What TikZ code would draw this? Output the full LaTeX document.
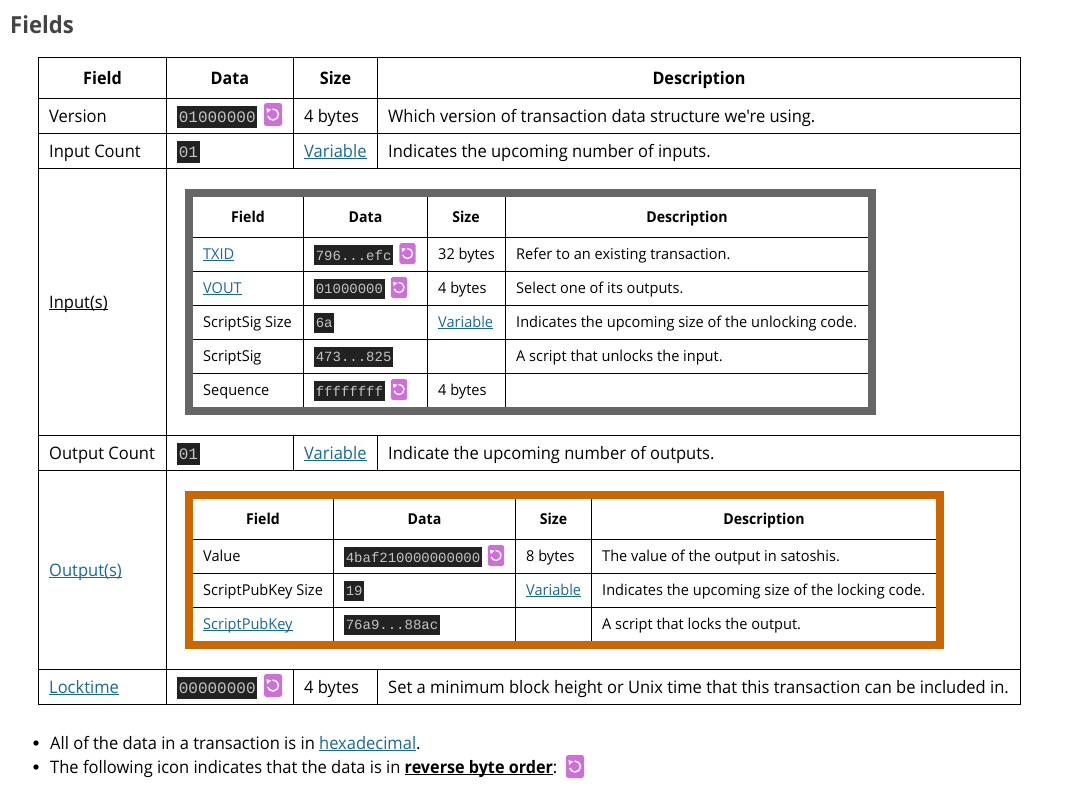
\documentclass[tikz,border=0pt]{standalone}
\usepackage{fontspec}
\newfontfamily\bigfam{Open Sans}[FakeStretch=0.96,BoldFeatures={FakeStretch=0.94}]
\newfontfamily\smallfam{Open Sans}[FakeStretch=0.97,BoldFeatures={FakeStretch=0.94}]
\setmonofont{Liberation Mono}
\definecolor{linkblue}{RGB}{20,105,160}
\definecolor{codebg}{RGB}{34,34,34}
\definecolor{codefg}{RGB}{195,195,195}
\definecolor{iconpurple}{RGB}{205,110,217}
\definecolor{greyframe}{RGB}{102,102,102}
\definecolor{orangeframe}{RGB}{204,102,0}
\definecolor{headgrey}{RGB}{68,68,68}
\newcommand{\linktext}[1]{\textcolor{linkblue}{\sbox0{#1}\rlap{\rule[-2.4pt]{\wd0}{1pt}}\usebox0}}
\tikzset{
  bigtext/.style={anchor=base west,inner sep=0,font=\bigfam\fontsize{17.2}{20}\selectfont},
  bighead/.style={anchor=base,inner sep=0,font=\bigfam\fontsize{17.2}{20}\selectfont\bfseries},
  smalltext/.style={anchor=base west,inner sep=0,font=\smallfam\fontsize{15}{18}\selectfont},
  smallhead/.style={anchor=base,inner sep=0,font=\smallfam\fontsize{15}{18}\selectfont\bfseries},
  bigcode/.style={anchor=west,fill=codebg,text=codefg,inner xsep=1.6,inner ysep=0,minimum height=22,font=\ttfamily\fontsize{16}{18}\selectfont},
  smallcode/.style={anchor=west,fill=codebg,text=codefg,inner xsep=1.6,inner ysep=0,minimum height=20,font=\ttfamily\fontsize{14}{16}\selectfont},
  revicon/.pic={
    \fill[iconpurple,rounded corners=2.5] (-9,-11.5) rectangle (9,11.5);
    \draw[white,line width=1.5] (-95:5.5) arc[start angle=-95,end angle=165,radius=5.5];
    \fill[white] (-6.6,-6.2) -- (-1.6,-5.2) -- (-5.8,-1.4) -- cycle;
  },
  smallrevicon/.pic={
    \fill[iconpurple,rounded corners=2.5] (-8.2,-10.5) rectangle (8.2,10.5);
    \draw[white,line width=1.4] (-95:5) arc[start angle=-95,end angle=165,radius=5];
    \fill[white] (-6,-5.6) -- (-1.5,-4.8) -- (-5.3,-1.3) -- cycle;
  }
}
\begin{document}
\begin{tikzpicture}[x=1pt,y=-1pt]
\useasboundingbox (0,0) rectangle (1092,790);
\node[anchor=base west,inner sep=0,text=headgrey,font=\bigfam\fontsize{23.5}{26}\selectfont\bfseries] (title) at (10,33) {Fields};
% main table
\draw[line width=1.1] (38.5,57.5) rectangle (1020.5,704.5);
\foreach \y in {98.5,133.5,168.5,435.5,470.5,669.5}
  \draw[line width=1.1] (38.5,\y) -- (1020.5,\y);
\draw[line width=1.1] (166.5,57.5) -- (166.5,704.5);
\foreach \x/\ya/\yb in {293.5/57.5/168.5,377.5/57.5/168.5,293.5/435.5/470.5,377.5/435.5/470.5,293.5/669.5/704.5,377.5/669.5/704.5}
  \draw[line width=1.1] (\x,\ya) -- (\x,\yb);
\node[bighead] (hfield) at (102.5,84) {Field};
\node[bighead] (hdata) at (230,84) {Data};
\node[bighead] (hsize) at (335.5,84) {Size};
\node[bighead] (hdesc) at (699,84) {Description};
\node[bigtext] (version) at (49,122) {Version};
\node[bigcode] (versiondata) at (177,117) {01000000};
\pic at (273,114.5) {revicon};
\node[bigtext] (versionsize) at (304,122) {4 bytes};
\node[bigtext] (versiondesc) at (388,122) {Which version of transaction data structure we're using.};
\node[bigtext] (incount) at (49,157) {Input Count};
\node[bigcode] (incountdata) at (177,152) {01};
\node[bigtext] (incountsize) at (304,157) {\linktext{Variable}};
\node[bigtext] (incountdesc) at (388,157) {Indicates the upcoming number of inputs.};
\node[bigtext] (inputs) at (49,308) {\sbox0{Input(s)}\rlap{\rule[-2.4pt]{\wd0}{1pt}}\usebox0};
\node[bigtext] (outcount) at (49,459) {Output Count};
\node[bigcode] (outcountdata) at (177,454) {01};
\node[bigtext] (outcountsize) at (304,459) {\linktext{Variable}};
\node[bigtext] (outcountdesc) at (388,459) {Indicate the upcoming number of outputs.};
\node[bigtext] (outputs) at (49,576) {\linktext{Output(s)}};
\node[bigtext] (locktime) at (49,693) {\linktext{Locktime}};
\node[bigcode] (locktimedata) at (177,688) {00000000};
\pic at (273,685.5) {revicon};
\node[bigtext] (locktimesize) at (304,693) {4 bytes};
\node[bigtext] (locktimedesc) at (388,693) {Set a minimum block height or Unix time that this transaction can be included in.};
% input table
\draw[greyframe,line width=8] (189,193) rectangle (872,411);
\foreach \y in {237.5,271.5,305.5,339.5,373.5}
  \draw[line width=1.1] (193,\y) -- (868,\y);
\foreach \x in {303.5,427.5,505.5}
  \draw[line width=1.1] (\x,197) -- (\x,407);
\node[smallhead] (inhfield) at (248,222) {Field};
\node[smallhead] (inhdata) at (365.5,222) {Data};
\node[smallhead] (inhsize) at (466,222) {Size};
\node[smallhead] (inhdesc) at (687,222) {Description};
\node[smalltext] (txid) at (203,259) {\linktext{TXID}};
\node[smallcode] (txiddata) at (314,255) {796...efc};
\pic at (407.5,253.5) {smallrevicon};
\node[smalltext] (txidsize) at (438,259) {32 bytes};
\node[smalltext] (txiddesc) at (516,259) {Refer to an existing transaction.};
\node[smalltext] (vout) at (203,293) {\linktext{VOUT}};
\node[smallcode] (voutdata) at (314,289) {01000000};
\pic at (399,287.5) {smallrevicon};
\node[smalltext] (voutsize) at (438,293) {4 bytes};
\node[smalltext] (voutdesc) at (516,293) {Select one of its outputs.};
\node[smalltext] (sigsize) at (203,327) {ScriptSig Size};
\node[smallcode] (sigsizedata) at (314,323) {6a};
\node[smalltext] (sigsizesize) at (438,327) {\linktext{Variable}};
\node[smalltext] (sigsizedesc) at (516,327) {Indicates the upcoming size of the unlocking code.};
\node[smalltext] (sig) at (203,361) {ScriptSig};
\node[smallcode] (sigdata) at (314,357) {473...825};
\node[smalltext] (sigdesc) at (516,361) {A script that unlocks the input.};
\node[smalltext] (sequence) at (203,395) {Sequence};
\node[smallcode] (sequencedata) at (314,391) {ffffffff};
\pic at (399,389.5) {smallrevicon};
\node[smalltext] (sequencesize) at (438,395) {4 bytes};
% output table
\draw[orangeframe,line width=8] (189,495) rectangle (940,645);
\foreach \y in {539.5,573.5,607.5}
  \draw[line width=1.1] (193,\y) -- (936,\y);
\foreach \x in {333.5,515.5,591.5}
  \draw[line width=1.1] (\x,499) -- (\x,641);
\node[smallhead] (outhfield) at (263,524) {Field};
\node[smallhead] (outhdata) at (424.5,524) {Data};
\node[smallhead] (outhsize) at (553.5,524) {Size};
\node[smallhead] (outhdesc) at (764,524) {Description};
\node[smalltext] (value) at (203,561) {Value};
\node[smallcode] (valuedata) at (344,557) {4baf210000000000};
\pic at (496,555.5) {smallrevicon};
\node[smalltext] (valuesize) at (526,561) {8 bytes};
\node[smalltext] (valuedesc) at (602,561) {The value of the output in satoshis.};
\node[smalltext] (pubsize) at (203,595) {ScriptPubKey Size};
\node[smallcode] (pubsizedata) at (344,591) {19};
\node[smalltext] (pubsizesize) at (526,595) {\linktext{Variable}};
\node[smalltext] (pubsizedesc) at (602,595) {Indicates the upcoming size of the locking code.};
\node[smalltext] (pub) at (203,629) {\linktext{ScriptPubKey}};
\node[smallcode] (pubdata) at (344,625) {76a9...88ac};
\node[smalltext] (pubdesc) at (602,629) {A script that locks the output.};
% notes below
\fill (36,743) circle (2.7);
\fill (36,767) circle (2.7);
\node[bigtext] (noteone) at (50,749) {All of the data in a transaction is in \linktext{hexadecimal}.};
\node[bigtext] (notetwo) at (50,773) {The following icon indicates that the data is in \sbox0{\bfseries reverse byte order}\rlap{\rule[-2.4pt]{\wd0}{1pt}}\usebox0:};
\pic at (575,766.5) {revicon};
\end{tikzpicture}
\end{document}
